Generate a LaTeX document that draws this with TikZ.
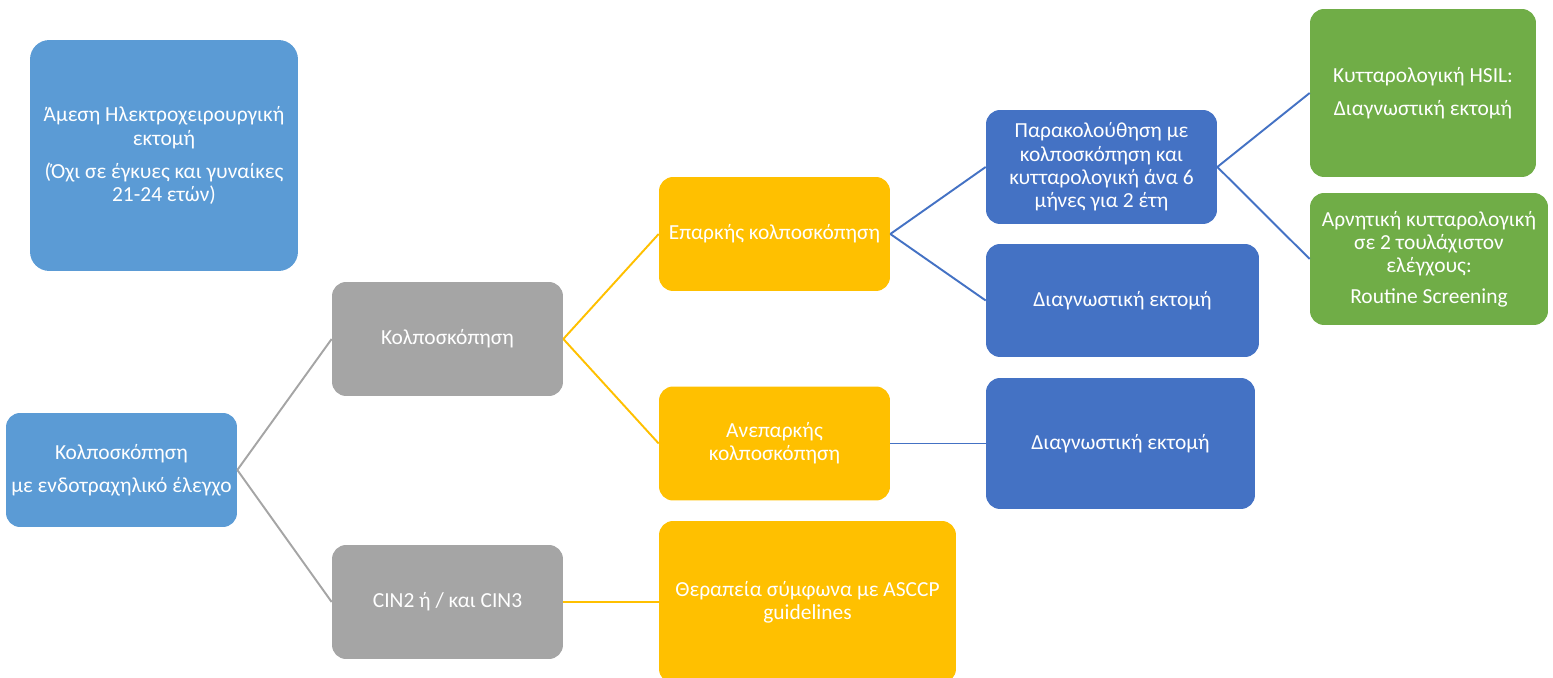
\documentclass[tikz,border=0pt]{standalone}
\usepackage{fontspec}
\setmainfont{Carlito}
\usepackage{xcolor}
\usetikzlibrary{positioning,calc}

\definecolor{lightblue}{HTML}{5B9BD5}
\definecolor{darkblue}{HTML}{4472C4}
\definecolor{boxgray}{HTML}{A5A5A5}
\definecolor{boxyellow}{HTML}{FFC000}
\definecolor{boxgreen}{HTML}{70AD47}

\begin{document}
\begin{tikzpicture}[
    x=0.02cm, y=-0.02cm,
    stepnode/.style={rectangle, rounded corners=8pt, text=white, align=center,
      font=\fontsize{12.2}{13.3}\selectfont, inner sep=2pt,
      minimum width=4.62cm, minimum height=2.28cm},
    rootbox/.style={stepnode, fill=lightblue},
    graybox/.style={stepnode, fill=boxgray},
    yellowbox/.style={stepnode, fill=boxyellow},
    bluebox/.style={stepnode, fill=darkblue},
    greenbox/.style={stepnode, fill=boxgreen},
    branch/.style={line width=1.1pt}
  ]
  \clip (0,0) rectangle (1553,678);

  % ============ Left column ============
  \node[rootbox, rounded corners=11pt, minimum width=5.36cm, minimum height=4.62cm]
    (direct) at (164,155.5)
    {Άμεση Ηλεκτροχειρουργική\\εκτομή\\[5.5pt](Όχι σε έγκυες και γυναίκες\\21-24 ετών)};
  \node[rootbox] (start) at (121.5,470)
    {Κολποσκόπηση\\[5.5pt]με ενδοτραχηλικό έλεγχο};

  % ============ Colposcopy results (gray) ============
  \node[graybox] (colpo) at (447.5,339) {Κολποσκόπηση};
  \node[graybox] (cin)   at (447.5,602) {CIN2 ή / και CIN3};

  % ============ Adequacy / treatment (yellow) ============
  \node[yellowbox] (adequate)   at (774.5,234)   {Επαρκής κολποσκόπηση};
  \node[yellowbox] (inadequate) at (774.5,443.5) {Ανεπαρκής\\κολποσκόπηση};
  \node[yellowbox, minimum width=5.94cm, minimum height=3.24cm]
    (treat) at (807.5,602) {Θεραπεία σύμφωνα με ASCCP\\guidelines};

  % ============ Follow-up (dark blue) ============
  \node[bluebox] (follow) at (1101.5,167)
    {Παρακολούθηση με\\κολποσκόπηση και\\κυτταρολογική άνα 6\\μήνες για 2 έτη};
  \node[bluebox, minimum width=5.46cm, minimum height=2.26cm]
    (excA) at (1122.5,300.5) {Διαγνωστική εκτομή};
  \node[bluebox, minimum width=5.38cm, minimum height=2.62cm]
    (excB) at (1120.5,443.5) {Διαγνωστική εκτομή};

  % ============ Outcomes (green) ============
  \node[greenbox, minimum width=4.52cm, minimum height=3.36cm]
    (hsil) at (1423,93) {Κυτταρολογική HSIL:\\[5.5pt]Διαγνωστική εκτομή};
  \node[greenbox, minimum width=4.76cm, minimum height=2.64cm]
    (negative) at (1429,259)
    {Αρνητική κυτταρολογική\\σε 2 τουλάχιστον\\ελέγχους:\\[4pt]Routine Screening};

  % ============ Branches ============
  \draw[branch, boxgray] (start.east) -- (colpo.west);
  \draw[branch, boxgray] (start.east) -- (cin.west);

  \draw[branch, boxyellow] (colpo.east) -- (adequate.west);
  \draw[branch, boxyellow] (colpo.east) -- (inadequate.west);
  \draw[branch, boxyellow] (cin.east)   -- (treat.west);

  \draw[branch, darkblue] (adequate.east)   -- (follow.west);
  \draw[branch, darkblue] (adequate.east)   -- (excA.west);
  \draw[branch, darkblue] (inadequate.east) -- (excB.west);

  \draw[branch, darkblue] (follow.east) -- (hsil.west);
  \draw[branch, darkblue] (follow.east) -- (negative.west);

\end{tikzpicture}
\end{document}
